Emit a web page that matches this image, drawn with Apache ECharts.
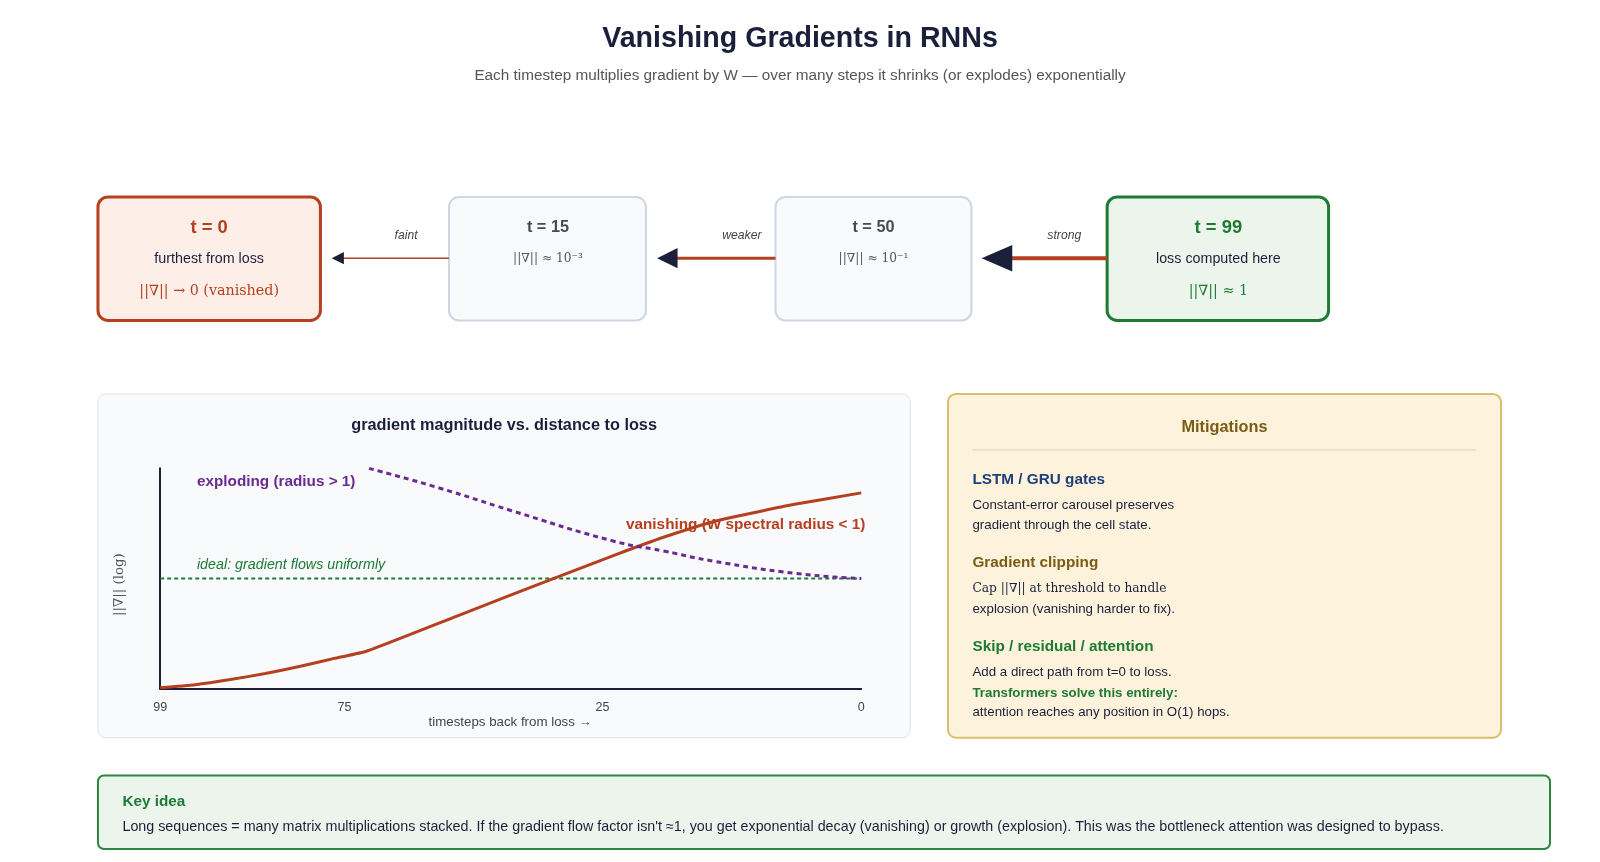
<!DOCTYPE html>
<html><head><meta charset="utf-8">
<script src="https://cdn.jsdelivr.net/npm/echarts@6/dist/echarts.min.js"></script>
<style>html,body{margin:0;padding:0;background:#fff}#c{width:1600px;height:862px}</style>
</head><body><div id="c"></div>
<script>
// x position along axis (0..100 of axis width), y = relative log magnitude
const tickPos = [0, 26.3, 63.1, 100];
const tickLabels = ['99', '75', '25', '0'];
const vanishing = [[0,1],[5,4],[10,9],[15,15],[20,22],[25,30],[29.5,37],[42.6,72],[55.7,107],[65.2,132],[72,149],[79,164],[85,173],[90.7,181],[100,192]];
const exploding = [[29.8,216],[39.7,197],[49.9,175],[64.5,145],[71.8,135],[79,125],[90.7,113],[100,108]];
const ideal = [[0,108],[100,108]];

const k = 1600/1568;
const F = 'Liberation Sans, Arial, sans-serif';
const S = 'DejaVu Serif, Liberation Serif, serif';
function fs(w,n,fam){return (w?w+' ':'')+Math.round(n*k*10)/10+'px '+fam;}
function rect(x,y,w,h,fill,stroke,lw,r){return {type:'rect',shape:{x:x*k,y:y*k,width:w*k,height:h*k,r:r},style:{fill,stroke,lineWidth:lw},z:0};}
function txt(x,y,t,o){return {type:'text',x:x*k,y:y*k,style:Object.assign({text:t,fill:'#1a1f3a',font:fs('',14,F),textAlign:'center',textVerticalAlign:'middle'},o||{}),z:5};}
function arrow(x1,x2,y,lw,hl,hw){return [
 {type:'line',shape:{x1:x1*k,y1:y*k,x2:(x2+hl-1)*k,y2:y*k},style:{stroke:'#b5401f',lineWidth:lw},z:3},
 {type:'polygon',shape:{points:[[x2*k,y*k],[(x2+hl)*k,(y-hw)*k],[(x2+hl)*k,(y+hw)*k]]},style:{fill:'#1a1f3a'},z:4}];}

const g = [
 txt(784,38,'Vanishing Gradients in RNNs',{font:fs('bold',28,F)}),
 txt(784,74,'Each timestep multiplies gradient by W — over many steps it shrinks (or explodes) exponentially',{font:fs('',15,F),fill:'#555'}),
 rect(96,193,218,121,'#fdeee8','#b5401f',3,10),
 txt(205,223,'t = 0',{font:fs('bold',18,F),fill:'#b5401f'}),
 txt(205,254,'furthest from loss',{font:fs('',14,F)}),
 txt(205,285,'||∇|| → 0 (vanished)',{font:fs('',14,S),fill:'#b5401f'}),
 rect(440,193,193,121,'#f8fafc','#cdd6e2',2,10),
 txt(537,223,'t = 15',{font:fs('bold',16,F),fill:'#4a4a4a'}),
 txt(537,254,'||∇|| ≈ 10⁻³',{font:fs('',12,S),fill:'#555'}),
 rect(760,193,192,121,'#f8fafc','#cdd6e2',2,10),
 txt(856,223,'t = 50',{font:fs('bold',16,F),fill:'#4a4a4a'}),
 txt(856,254,'||∇|| ≈ 10⁻¹',{font:fs('',12,S),fill:'#555'}),
 rect(1085,193,217,121,'#ebf5ec','#1e7a35',3,10),
 txt(1194,223,'t = 99',{font:fs('bold',18,F),fill:'#1e7a35'}),
 txt(1194,254,'loss computed here',{font:fs('',14,F)}),
 txt(1194,285,'||∇|| ≈ 1',{font:fs('',14,S),fill:'#1e7a35'}),
 ...arrow(440,325,253,1.5,12,6),
 ...arrow(760,644,253,3,20,10),
 ...arrow(1085,962,253,4,30,13),
 txt(398,231,'faint',{font:fs('italic',12,F),fill:'#444'}),
 txt(727,231,'weaker',{font:fs('italic',12,F),fill:'#444'}),
 txt(1043,231,'strong',{font:fs('italic',12,F),fill:'#444'}),
 rect(96,386,796,337,'#f8fafc','#dde3ea',1,8),
 txt(494,417,'gradient magnitude vs. distance to loss',{font:fs('bold',16,F)}),
 txt(193,472,'exploding (radius > 1)',{font:fs('bold',15,F),fill:'#6b2a8f',textAlign:'left'}),
 txt(848,514,'vanishing (W spectral radius < 1)',{font:fs('bold',15,F),fill:'#b5401f',textAlign:'right'}),
 txt(193,554,'ideal: gradient flows uniformly',{font:fs('italic',14,F),fill:'#1e7a35',textAlign:'left'}),
 {type:'text',x:117*k,y:573*k,rotation:Math.PI/2,style:{text:'||∇|| (log)',font:fs('',13,S),fill:'#555',textAlign:'center',textVerticalAlign:'middle'},z:5},
 txt(500,708,'timesteps back from loss →',{font:fs('',13,F),fill:'#444'}),
 rect(929,386,542,337,'#fdf3dc','#d8bf6e',2,8),
 txt(1200,419,'Mitigations',{font:fs('bold',16,F),fill:'#7a5c14'}),
 {type:'line',shape:{x1:953*k,y1:441*k,x2:1447*k,y2:441*k},style:{stroke:'#e0d3b0',lineWidth:1},z:3},
 txt(953,470,'LSTM / GRU gates',{font:fs('bold',15,F),fill:'#1f3f7a',textAlign:'left'}),
 txt(953,495,'Constant-error carousel preserves',{font:fs('',13,F),textAlign:'left'}),
 txt(953,515,'gradient through the cell state.',{font:fs('',13,F),textAlign:'left'}),
 txt(953,552,'Gradient clipping',{font:fs('bold',15,F),fill:'#7a5c14',textAlign:'left'}),
 txt(953,577,'Cap ||∇|| at threshold to handle',{font:fs('',12,S),textAlign:'left'}),
 txt(953,597,'explosion (vanishing harder to fix).',{font:fs('',13,F),textAlign:'left'}),
 txt(953,634,'Skip / residual / attention',{font:fs('bold',15,F),fill:'#1e7a35',textAlign:'left'}),
 txt(953,659,'Add a direct path from t=0 to loss.',{font:fs('',13,F),textAlign:'left'}),
 txt(953,679,'Transformers solve this entirely:',{font:fs('bold',13,F),fill:'#1e7a35',textAlign:'left'}),
 txt(953,698,'attention reaches any position in O(1) hops.',{font:fs('',13,F),textAlign:'left'}),
 rect(96,760,1423,72,'#ecf5ec','#2e8540',2,6),
 txt(120,786,'Key idea',{font:fs('bold',15,F),fill:'#1e7a35',textAlign:'left'}),
 txt(120,811,"Long sequences = many matrix multiplications stacked. If the gradient flow factor isn't ≈1, you get exponential decay (vanishing) or growth (explosion). This was the bottleneck attention was designed to bypass.",{font:fs('',14,F),textAlign:'left'})
];

const chart = echarts.init(document.getElementById('c'));
chart.setOption({
 animation:false,
 grid:{left:157*k,right:1600-844*k,top:459*k,bottom:862-675*k,z:2},
 xAxis:{type:'value',min:0,max:100,splitLine:{show:false},
   axisLine:{lineStyle:{color:'#1a1f3a',width:2}},axisTick:{show:false},
   axisLabel:{customValues:tickPos,formatter:v=>tickLabels[tickPos.indexOf(v)]||'',color:'#444',fontSize:12.5,margin:12,fontFamily:F}},
 yAxis:{type:'value',min:0,max:216,splitLine:{show:false},axisLabel:{show:false},axisTick:{show:false},
   axisLine:{show:true,lineStyle:{color:'#1a1f3a',width:2}}},
 series:[
  {type:'line',data:vanishing,showSymbol:false,smooth:0.2,lineStyle:{color:'#b5401f',width:3},z:4},
  {type:'line',data:exploding,showSymbol:false,smooth:true,lineStyle:{color:'#6b2a8f',width:3,type:[5,4]},z:4},
  {type:'line',data:ideal,showSymbol:false,lineStyle:{color:'#1e7a35',width:2,type:[4,3]},z:3}
 ],
 graphic:g
});
</script></body></html>
